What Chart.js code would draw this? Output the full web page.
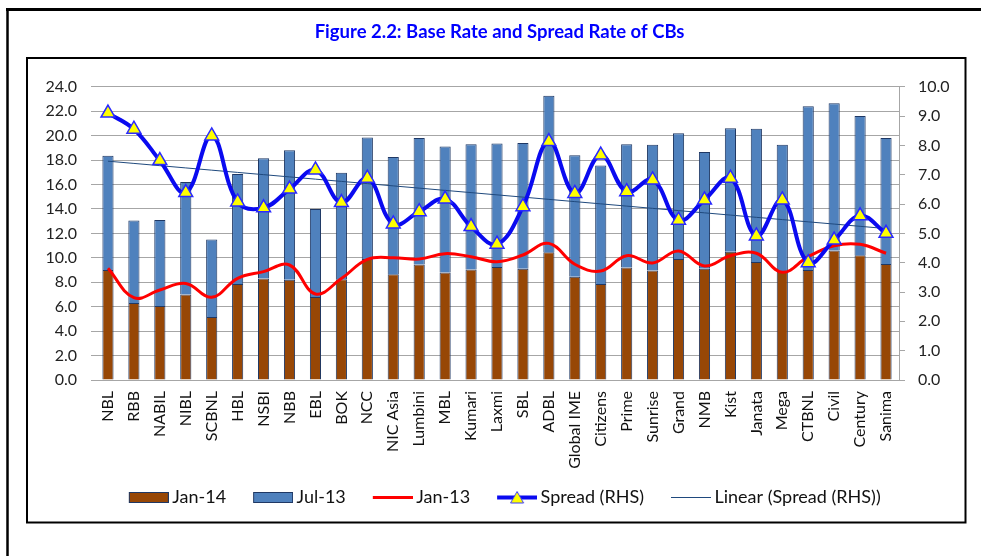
<!DOCTYPE html>
<html>
<head>
<meta charset="utf-8">
<script src="https://cdn.jsdelivr.net/npm/chart.js@4.4.1/dist/chart.umd.min.js"></script>
<style>
  html, body { margin: 0; padding: 0; background: #fff; }
  #wrap { position: relative; width: 981px; height: 556px; }
  canvas { display: block; }
</style>
</head>
<body>
<div id="wrap"><canvas id="c" width="981" height="556"></canvas></div>
<script>
const categories = ['NBL','RBB','NABIL','NIBL','SCBNL','HBL','NSBI','NBB','EBL','BOK','NCC','NIC Asia','Lumbini','MBL','Kumari','Laxmi','SBL','ADBL','Global IME','Citizens','Prime','Sunrise','Grand','NMB','Kist','Janata','Mega','CTBNL','Civil','Century','Sanima'];
const jan14 = [9.0,6.3,6.05,7.0,5.15,7.85,8.3,8.2,6.8,8.25,9.9,8.65,9.45,8.8,9.05,9.25,9.1,10.45,8.45,7.85,9.2,8.95,9.9,9.1,10.5,9.65,8.9,9.0,10.6,10.2,9.5];
const jul13 = [9.35,6.75,7.05,9.2,6.35,9.0,9.85,10.6,7.2,8.7,9.95,9.6,10.35,10.3,10.25,10.1,10.3,12.8,9.95,9.7,10.1,10.3,10.3,9.55,10.1,10.9,10.35,13.4,12.05,11.4,10.3];
const jan13 = [9.14,6.74,7.36,7.9,6.77,8.32,8.87,9.41,7.04,8.3,9.87,10.01,9.9,10.34,10.09,9.68,10.23,11.18,9.47,8.92,10.17,9.58,10.56,9.33,10.17,10.37,8.81,10.09,10.99,11.1,10.37];
const spread = [9.1,8.55,7.48,6.39,8.32,6.07,5.87,6.51,7.16,6.05,6.88,5.32,5.74,6.17,5.23,4.63,5.91,8.13,6.36,7.67,6.42,6.82,5.45,6.14,6.88,4.91,6.14,4.0,4.77,5.6,5.0];
const leftTickLabels = ['0.0','2.0','4.0','6.0','8.0','10.0','12.0','14.0','16.0','18.0','20.0','22.0','24.0'];
const rightTickLabels = ['0.0','1.0','2.0','3.0','4.0','5.0','6.0','7.0','8.0','9.0','10.0'];
const seriesNames = ['Jan-14','Jul-13','Jan-13','Spread (RHS)','Linear (Spread (RHS))'];
const titleText = 'Figure 2.2: Base Rate and Spread Rate of CBs';

// Linear trendline (least squares of the Spread series, as Excel does)
const n = spread.length;
const xm = (n - 1) / 2;
const ym = spread.reduce((a, b) => a + b, 0) / n;
let sxy = 0, sxx = 0;
spread.forEach((v, i) => { sxy += (i - xm) * (v - ym); sxx += (i - xm) * (i - xm); });
const slope = sxy / sxx;
const trend = spread.map((v, i) => ym + slope * (i - xm));

const BROWN = '#974706', BLUE = '#4F81BD', NAVY = '#1F3864', RED = '#FF0000', SBLUE = '#0A0AF0', YEL = '#FFFF00', TREND = '#1F497D';
const FONT = 'Lato';

// legend symbols: canvas 56 wide, symbol occupies x 16..56 (40 px), rest transparent
function mk(fn) { const c = document.createElement('canvas'); c.width = 56; c.height = 14; fn(c.getContext('2d')); return c; }
const S0 = 16;
const symJan14 = mk(g => { g.fillStyle = BROWN; g.fillRect(S0 + 0.5, 2.5, 39, 10); g.strokeStyle = NAVY; g.lineWidth = 1; g.strokeRect(S0 + 0.5, 2.5, 39, 10); });
const symJul13 = mk(g => { g.fillStyle = BLUE; g.fillRect(S0 + 0.5, 2.5, 39, 10); g.strokeStyle = NAVY; g.lineWidth = 1; g.strokeRect(S0 + 0.5, 2.5, 39, 10); });
const symJan13 = mk(g => { g.fillStyle = RED; g.fillRect(S0, 6, 40, 3); });
const symSpread = mk(g => {
  g.fillStyle = SBLUE; g.fillRect(S0, 5.5, 40, 4);
  const cx = S0 + 20;
  g.beginPath(); g.moveTo(cx, 1.5); g.lineTo(cx + 6.5, 13); g.lineTo(cx - 6.5, 13); g.closePath();
  g.fillStyle = YEL; g.fill(); g.strokeStyle = '#3a3aff'; g.lineWidth = 1; g.stroke();
});
const symTrend = mk(g => { g.fillStyle = TREND; g.fillRect(S0, 7, 40, 1); });
const symbols = [symJan14, symJul13, symJan13, symSpread, symTrend];

const framePlugin = {
  id: 'frames',
  beforeDraw(chart) {
    const g = chart.ctx;
    g.save();
    g.fillStyle = '#fff'; g.fillRect(0, 0, chart.width, chart.height);
    g.strokeStyle = '#000';
    g.lineWidth = 3;
    g.beginPath(); g.moveTo(6, 9.5); g.lineTo(981, 9.5); g.stroke();
    g.lineWidth = 2.5;
    g.beginPath(); g.moveTo(7.5, 8); g.lineTo(7.5, 556); g.stroke();
    g.lineWidth = 2;
    g.strokeRect(27, 58, 938.5, 464.5);
    g.restore();
  }
};

new Chart(document.getElementById('c'), {
  type: 'bar',
  data: {
    labels: categories,
    datasets: [
      { type: 'line', label: seriesNames[3], data: spread, yAxisID: 'y1', borderColor: SBLUE, borderWidth: 4, tension: 0.4,
        pointStyle: 'triangle', pointRadius: 8, pointBackgroundColor: YEL, pointBorderColor: '#2a2aff', pointBorderWidth: 1.5, order: 0 },
      { type: 'line', label: seriesNames[4], data: trend, yAxisID: 'y1', borderColor: TREND, borderWidth: 1, pointRadius: 0, tension: 0, order: 1 },
      { type: 'line', label: seriesNames[2], data: jan13, yAxisID: 'y', stack: 'red', borderColor: RED, borderWidth: 3, pointRadius: 0, tension: 0.4, order: 2 },
      { type: 'bar', label: seriesNames[0], data: jan14, yAxisID: 'y', stack: 'base', backgroundColor: BROWN, borderColor: NAVY, borderWidth: 1, order: 3,
        barPercentage: 0.43, categoryPercentage: 1 },
      { type: 'bar', label: seriesNames[1], data: jul13, yAxisID: 'y', stack: 'base', backgroundColor: BLUE, borderColor: NAVY, borderWidth: 1, order: 4,
        barPercentage: 0.43, categoryPercentage: 1 }
    ]
  },
  options: {
    responsive: false,
    animation: false,
    devicePixelRatio: 1,
    layout: { padding: { left: 34, right: 16, top: 0, bottom: 40 } },
    plugins: {
      tooltip: { enabled: false },
      title: {
        display: true, text: titleText, color: '#0000FF',
        font: { family: FONT, size: 18.5, weight: 'bold', lineHeight: 1.2 },
        padding: { top: 21, bottom: 43.5 }
      },
      legend: {
        position: 'bottom',
        labels: {
          usePointStyle: true, pointStyleWidth: 45, boxHeight: 12, padding: 16.5,
          color: '#111', font: { family: FONT, size: 18 },
          generateLabels: () => seriesNames.map((t, i) => ({
            text: t, pointStyle: symbols[i], hidden: false, lineWidth: 0,
            fillStyle: 'rgba(0,0,0,0)', strokeStyle: 'rgba(0,0,0,0)', datasetIndex: i, fontColor: '#111'
          }))
        },
        onClick: () => {}
      }
    },
    scales: {
      x: {
        stacked: true,
        grid: { display: false, drawTicks: false },
        border: { display: true, color: '#a6a6a6', width: 1 },
        ticks: { autoSkip: false, maxRotation: 90, minRotation: 90, padding: 11, color: '#111', font: { family: FONT, size: 16 } },
        afterFit: s => { s.height = 91.5; }
      },
      y: {
        position: 'left', stacked: true, min: 0, max: 24,
        grid: { color: '#a6a6a6', lineWidth: 1, drawTicks: true, tickLength: 4, tickColor: '#a6a6a6' },
        border: { display: false },
        ticks: { stepSize: 2, padding: 14, color: '#222', font: { family: FONT, size: 16 },
          callback: (v, i) => leftTickLabels[i] },
        afterFit: s => { s.width = 61; }
      },
      y1: {
        position: 'right', min: 0, max: 10,
        grid: { drawOnChartArea: false, drawTicks: true, tickLength: 6, color: '#a6a6a6' },
        border: { display: true, color: '#a6a6a6', width: 1 },
        ticks: { stepSize: 1, padding: 13, color: '#222', font: { family: FONT, size: 16 },
          callback: (v, i) => rightTickLabels[i] },
        afterFit: s => { s.width = 66; }
      }
    }
  },
  plugins: [framePlugin]
});
</script>
</body>
</html>
